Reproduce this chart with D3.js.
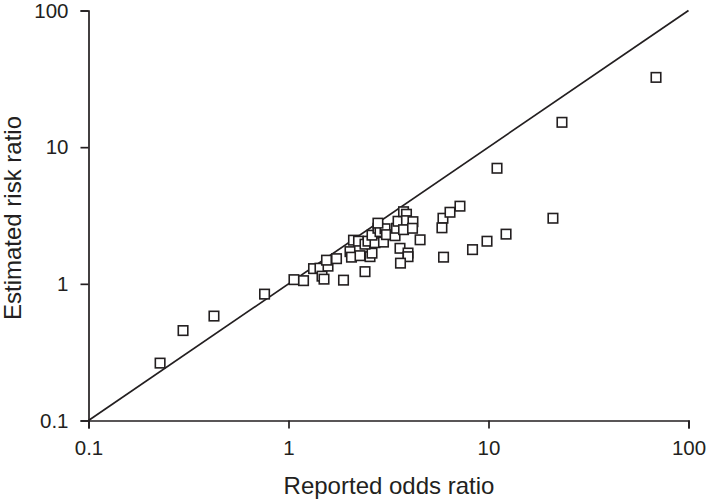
<!DOCTYPE html>
<html><head><meta charset="utf-8">
<script src="https://cdn.jsdelivr.net/npm/d3@7"></script>
<style>body{margin:0;background:#fff}</style>
</head><body>
<svg id="c" width="708" height="500"></svg>
<script>
const oddsRatio = [0.228,0.297,0.424,0.759,1.065,1.189,1.334,1.437,1.471,1.505,1.576,1.549,1.738,1.884,2.03,2.065,2.278,2.413,2.556,2.615,2.113,2.239,2.413,2.497,2.707,2.615,2.80,2.868,2.985,3.038,3.09,2.80,3.41,3.467,3.53,3.76,3.89,3.89,4.19,3.76,4.17,4.55,3.61,3.96,3.96,3.63,5.92,5.85,5.96,6.42,7.2,8.32,9.83,12.24,21.0,11.03,23.3,68.8];
const riskRatio = [0.263,0.455,0.581,0.841,1.073,1.055,1.292,1.302,1.138,1.082,1.347,1.490,1.528,1.064,1.72,1.567,1.607,1.228,1.581,1.677,2.087,2.052,1.95,2.052,2.0,2.27,2.55,2.41,2.02,2.53,2.29,2.78,2.25,2.55,2.87,3.37,3.23,2.90,2.85,2.49,2.55,2.10,1.82,1.68,1.58,1.417,3.02,2.57,1.567,3.34,3.70,1.78,2.05,2.31,3.02,7.01,15.2,32.4];
const tickValues = [0.1, 1, 10, 100];
const tickLabels = ["0.1", "1", "10", "100"];
const xTitle = "Reported odds ratio";
const yTitle = "Estimated risk ratio";

const svg = d3.select("#c");
const x = d3.scaleLog().domain([0.1, 100]).range([88.5, 688.5]);
const y = d3.scaleLog().domain([0.1, 100]).range([420.5, 10.5]);
const font = "'Liberation Sans', Arial, sans-serif";
const col = "#231f20";

const xAxis = svg.append("g").attr("transform", "translate(0,420.5)")
  .call(d3.axisBottom(x).tickValues(tickValues).tickFormat((d,i)=>tickLabels[i]).tickSizeOuter(0).tickSize(8).tickPadding(11.5));
const yAxis = svg.append("g").attr("transform", "translate(88.5,0)")
  .call(d3.axisLeft(y).tickValues(tickValues).tickFormat((d,i)=>tickLabels[i]).tickSizeOuter(0).tickSize(8).tickPadding(12));
[xAxis, yAxis].forEach(g => {
  g.selectAll("path.domain").attr("stroke", col).attr("stroke-width", 1.7);
  g.selectAll(".tick line").attr("stroke", col).attr("stroke-width", 1.7);
  g.selectAll(".tick text").attr("font-family", font).attr("font-size", 20.5).attr("fill", col);
});

svg.append("line")
  .attr("x1", x(0.1)).attr("y1", y(0.1)).attr("x2", x(100)).attr("y2", y(100))
  .attr("stroke", col).attr("stroke-width", 1.7);

const s = 9.5;
svg.append("g").selectAll("rect").data(oddsRatio.map((d,i)=>[d, riskRatio[i]])).join("rect")
  .attr("x", d => x(d[0]) - s/2).attr("y", d => y(d[1]) - s/2)
  .attr("width", s).attr("height", s)
  .attr("fill", "#fff").attr("stroke", col).attr("stroke-width", 1.6);

svg.append("text").attr("x", 389).attr("y", 494).attr("text-anchor", "middle")
  .attr("font-family", font).attr("font-size", 24).attr("fill", col).text(xTitle);
svg.append("text").attr("transform", "translate(21,218) rotate(-90)").attr("text-anchor", "middle")
  .attr("font-family", font).attr("font-size", 24).attr("fill", col).text(yTitle);
</script>
</body></html>
